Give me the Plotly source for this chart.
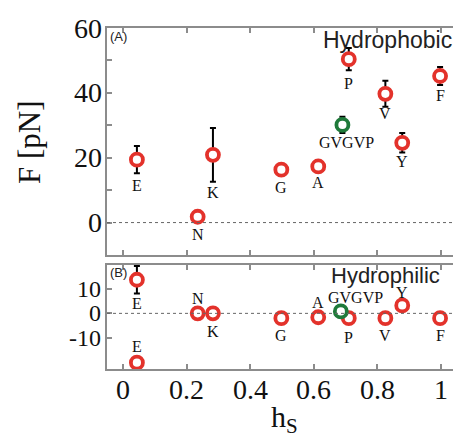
import plotly.graph_objects as go

# ---------------- data ----------------
residues = ["E", "N", "K", "G", "A", "P", "V", "Y", "F"]
hs = [0.044, 0.235, 0.283, 0.498, 0.614, 0.710, 0.825, 0.878, 0.997]
F_phobic = [19.4, 1.8, 20.9, 16.3, 17.3, 50.4, 39.7, 24.6, 45.2]
err_phobic = [4.2, 0.6, 8.3, 0.8, 0.8, 3.4, 4.0, 3.0, 2.8]

gvgvp_hs = 0.690
gvgvp_F_phobic = 30.1
gvgvp_err_phobic = 2.5

philic_labels = ["E", "E", "N", "K", "G", "A", "P", "V", "Y", "F"]
philic_hs = [0.044, 0.044, 0.235, 0.283, 0.498, 0.614, 0.710, 0.825, 0.878, 0.997]
F_philic = [13.9, -20.4, 0.0, 0.0, -2.0, -1.6, -2.0, -2.0, 3.3, -2.0]
err_philic = [5.7, 0.0, 0.0, 0.0, 0.0, 0.0, 0.0, 0.0, 0.0, 0.0]
gvgvp_hs_philic = 0.685
gvgvp_F_philic = 0.8

xtick_vals = [0, 0.2, 0.4, 0.6, 0.8, 1.0]
xtick_text = ["0", "0.2", "0.4", "0.6", "0.8", "1"]
ytick_top = [0, 20, 40, 60]
ytick_top_text = ["0", "20", "40", "60"]
ytick_bot = [-10, 0, 10]
ytick_bot_text = ["-10", "0", "10"]

# ---------------- style ----------------
RED = "#e3322b"
GREEN = "#1f7a3a"
FRAME = "#8c8c8c"
SERIF = "Liberation Serif, Times New Roman, serif"
SANS = "Liberation Sans, Arial, sans-serif"

# label offsets (pixels, positive = below point)
dy_top = [26, 18, 38, 18, 16, 24, 20, 19, 20]
dy_gv_top = 18
dy_bot = [24, -16, -15, 18, 17, -15, 19, 17, -13, 17]
dy_gv_bot = -14

W, H = 453, 436
def py(p):
    return 1 - p / H

fig = go.Figure()

def marker(c):
    return dict(symbol="circle", size=12, color="white", line=dict(width=3.8, color=c))

err_style = dict(type="data", thickness=2, width=3, color="black")
invisible = dict(size=1, color="rgba(0,0,0,0)")

# error bars first (behind markers)
fig.add_trace(go.Scatter(x=hs, y=F_phobic, mode="markers", marker=invisible,
                         error_y=dict(array=err_phobic, **err_style),
                         xaxis="x", yaxis="y", showlegend=False, hoverinfo="skip"))
fig.add_trace(go.Scatter(x=[gvgvp_hs], y=[gvgvp_F_phobic], mode="markers", marker=invisible,
                         error_y=dict(array=[gvgvp_err_phobic], **err_style),
                         xaxis="x", yaxis="y", showlegend=False, hoverinfo="skip"))
fig.add_trace(go.Scatter(x=philic_hs, y=F_philic, mode="markers", marker=invisible,
                         error_y=dict(array=err_philic, **err_style),
                         xaxis="x2", yaxis="y2", showlegend=False, hoverinfo="skip"))

fig.add_trace(go.Scatter(x=hs, y=F_phobic, mode="markers", marker=marker(RED),
                         xaxis="x", yaxis="y", showlegend=False))
fig.add_trace(go.Scatter(x=[gvgvp_hs], y=[gvgvp_F_phobic], mode="markers", marker=marker(GREEN),
                         xaxis="x", yaxis="y", showlegend=False))
fig.add_trace(go.Scatter(x=philic_hs, y=F_philic, mode="markers", marker=marker(RED),
                         xaxis="x2", yaxis="y2", showlegend=False))
fig.add_trace(go.Scatter(x=[gvgvp_hs_philic], y=[gvgvp_F_philic], mode="markers", marker=marker(GREEN),
                         xaxis="x2", yaxis="y2", showlegend=False))

ann = []
lab_font = dict(family=SERIF, size=16, color="#111")
for r, x, y, d in zip(residues, hs, F_phobic, dy_top):
    ann.append(dict(x=x, y=y, xref="x", yref="y", text=r, showarrow=False,
                    yshift=-d, font=lab_font))
ann.append(dict(x=gvgvp_hs, y=gvgvp_F_phobic, xref="x", yref="y", text="GVGVP",
                showarrow=False, yshift=-dy_gv_top, xshift=4, font=lab_font))
for r, x, y, d in zip(philic_labels, philic_hs, F_philic, dy_bot):
    ann.append(dict(x=x, y=y, xref="x2", yref="y2", text=r, showarrow=False,
                    yshift=-d, font=lab_font))
ann.append(dict(x=gvgvp_hs_philic, y=gvgvp_F_philic, xref="x2", yref="y2", text="GVGVP",
                showarrow=False, yshift=-dy_gv_bot, xshift=15, font=lab_font))

# tick labels (placed via the axes' own scales)
tick_font_top = dict(family=SERIF, size=28, color="#111")
tick_font_bot = dict(family=SERIF, size=24, color="#111")
tick_font_x = dict(family=SERIF, size=28, color="#111")
for v, t in zip(ytick_top, ytick_top_text):
    ann.append(dict(x=104 / W, y=v, xref="paper", yref="y", text=t, showarrow=False,
                    xanchor="right", yanchor="middle", font=tick_font_top))
for v, t in zip(ytick_bot, ytick_bot_text):
    ann.append(dict(x=103 / W, y=v, xref="paper", yref="y2", text=t, showarrow=False,
                    xanchor="right", yanchor="middle", font=tick_font_bot))
for v, t in zip(xtick_vals, xtick_text):
    ann.append(dict(x=v, y=py(389), xref="x2", yref="paper", text=t, showarrow=False,
                    xanchor="center", yanchor="middle", font=tick_font_x))

ann += [
    dict(x=108 / W, y=py(37), xref="paper", yref="paper", text="(A)", showarrow=False,
         xanchor="left", yanchor="middle", font=dict(family=SANS, size=13, color="#222")),
    dict(x=108 / W, y=py(272), xref="paper", yref="paper", text="(B)", showarrow=False,
         xanchor="left", yanchor="middle", font=dict(family=SANS, size=13, color="#222")),
    dict(x=321 / W, y=py(40), xref="paper", yref="paper", text="Hydrophobic", showarrow=False,
         xanchor="left", yanchor="middle", font=dict(family=SANS, size=23, color="#222")),
    dict(x=329 / W, y=py(275), xref="paper", yref="paper", text="Hydrophilic", showarrow=False,
         xanchor="left", yanchor="middle", font=dict(family=SANS, size=22, color="#222")),
    dict(x=30 / W, y=py(142), xref="paper", yref="paper", text="F [pN]", showarrow=False,
         textangle=-90, xanchor="center", yanchor="middle",
         font=dict(family=SERIF, size=31, color="#111")),
    dict(x=284 / W, y=py(419), xref="paper", yref="paper", text="h<sub>S</sub>", showarrow=False,
         xanchor="center", yanchor="middle", font=dict(family=SERIF, size=30, color="#111")),
]

shapes = []
for xr_, yr_ in (("x", "y"), ("x2", "y2")):
    shapes.append(dict(type="line", xref=f"{xr_} domain", yref=yr_, x0=0, x1=1, y0=0, y1=0,
                       line=dict(color="#666", width=1, dash="dot")))

xr = [-0.05, 1.0376]
xdom = [107 / W, 1.0]
common_x = dict(range=xr, domain=xdom, tickvals=xtick_vals, showticklabels=False,
                ticks="inside", ticklen=5, tickcolor=FRAME, tickwidth=1.5,
                showline=True, linecolor=FRAME, linewidth=2, mirror="ticks",
                showgrid=False, zeroline=False, automargin=False)
common_y = dict(ticks="inside", ticklen=5, tickcolor=FRAME, tickwidth=1.5, showticklabels=False,
                showline=True, linecolor=FRAME, linewidth=2, showgrid=False, zeroline=False,
                automargin=False)
fig.update_layout(
    width=W, height=H,
    margin=dict(l=0, r=0, t=0, b=0),
    paper_bgcolor="white", plot_bgcolor="white",
    xaxis=dict(anchor="y", **common_x),
    xaxis2=dict(anchor="y2", **common_x),
    yaxis=dict(domain=[py(255), py(28)], range=[-10, 60], tickvals=ytick_top,
               minor=dict(dtick=10, tick0=0, ticks="inside", ticklen=5, tickcolor=FRAME, tickwidth=1.5),
               **common_y),
    yaxis2=dict(domain=[py(369), py(265)], range=[-23, 20], tickvals=ytick_bot, **common_y),
    annotations=ann,
    shapes=shapes,
)

fig.write_html("out.html")
